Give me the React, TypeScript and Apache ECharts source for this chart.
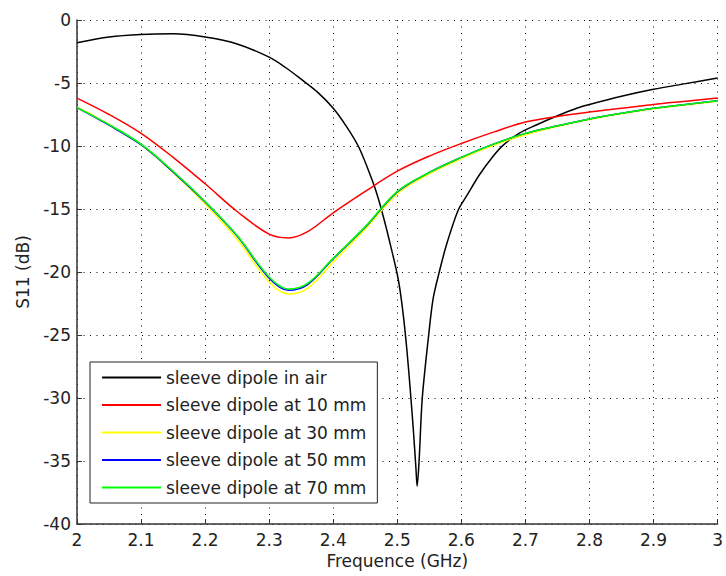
import React, { useEffect, useRef } from "react";
import * as echarts from "echarts";

// Frequencies (GHz) for the sleeve dipole in air
const freqAir = [2.0, 2.05, 2.1, 2.15, 2.2, 2.25, 2.3, 2.325, 2.35, 2.375, 2.4, 2.42, 2.44, 2.46, 2.47, 2.48, 2.49, 2.5, 2.505, 2.51, 2.515, 2.52, 2.525, 2.529, 2.531, 2.534, 2.539, 2.549, 2.556, 2.566, 2.577, 2.595, 2.609, 2.628, 2.649, 2.665, 2.69, 2.717, 2.75, 2.78, 2.8, 2.85, 2.9, 2.95, 3.0];
const s11Air = [-1.8, -1.35, -1.15, -1.1, -1.35, -1.9, -2.95, -3.75, -4.7, -5.7, -7.0, -8.4, -10.1, -12.6, -14.1, -15.95, -18.0, -20.2, -21.7, -23.7, -26.2, -29.2, -32.5, -35.5, -37.0, -35.0, -30.0, -25.0, -22.1, -19.9, -17.8, -15.1, -13.9, -12.3, -10.85, -9.95, -9.0, -8.33, -7.6, -7.0, -6.7, -6.05, -5.5, -5.05, -4.6];

// Common frequency grid (GHz) for the dipole in liquid
const freqs = [2.0, 2.05, 2.1, 2.15, 2.2, 2.25, 2.3, 2.33, 2.36, 2.4, 2.45, 2.5, 2.55, 2.6, 2.65, 2.7, 2.75, 2.8, 2.85, 2.9, 2.95, 3.0];
const s11At10 = [-6.2, -7.5, -9.0, -10.9, -13.0, -15.2, -17.0, -17.3, -16.8, -15.3, -13.6, -12.0, -10.8, -9.8, -8.9, -8.1, -7.65, -7.3, -7.0, -6.7, -6.45, -6.2];
const s11At30 = [-6.9, -8.3, -9.9, -12.1, -14.6, -17.4, -20.8, -21.75, -21.3, -19.2, -16.6, -13.8, -12.2, -11.0, -9.95, -9.1, -8.45, -7.9, -7.45, -7.05, -6.75, -6.45];
const s11At50 = [-6.95, -8.35, -9.9, -12.05, -14.45, -17.15, -20.5, -21.45, -21.0, -18.95, -16.45, -13.65, -12.1, -10.9, -9.85, -9.0, -8.4, -7.85, -7.4, -7.0, -6.7, -6.4];
const s11At70 = [-6.95, -8.3, -9.85, -12.0, -14.4, -17.1, -20.4, -21.35, -20.9, -18.9, -16.4, -13.6, -12.1, -10.9, -9.85, -9.0, -8.4, -7.85, -7.4, -7.0, -6.7, -6.4];

const seriesNames = [
  "sleeve dipole in air",
  "sleeve dipole at 10 mm",
  "sleeve dipole at 30 mm",
  "sleeve dipole at 50 mm",
  "sleeve dipole at 70 mm",
];
const seriesColors = ["#000000", "#ff0000", "#ffff00", "#0000ff", "#00ff00"];
const seriesSmooth = [0.3, 0.35, 0.35, 0.35, 0.35];

const xAxisName = "Frequence (GHz)";
const yAxisName = "S11 (dB)";

const FONT = "DejaVu Sans, Arial, sans-serif";

function zip(xs: number[], ys: number[]) {
  return xs.map((x, i) => [x, ys[i]]);
}

export default function App() {
  const ref = useRef<HTMLDivElement>(null);
  useEffect(() => {
    if (!ref.current) return;
    const chart = echarts.init(ref.current, undefined, { renderer: "svg" });
    const datasets = [
      zip(freqAir, s11Air),
      zip(freqs, s11At10),
      zip(freqs, s11At30),
      zip(freqs, s11At50),
      zip(freqs, s11At70),
    ];
    const gridLine = { show: true, lineStyle: { color: "#000", width: 1, type: [1, 5.5] as any } };
    chart.setOption({
      animation: false,
      backgroundColor: "#ffffff",
      grid: { left: 77, right: 6, top: 20, bottom: 52, containLabel: false },
      xAxis: {
        type: "value",
        min: 2,
        max: 3,
        interval: 0.1,
        name: xAxisName,
        nameLocation: "middle",
        nameGap: 27,
        nameTextStyle: { fontFamily: FONT, fontSize: 17, color: "#222" },
        axisLine: { show: true, onZero: false, lineStyle: { color: "#333", width: 1.5 } },
        axisTick: { show: true, inside: true, length: 5, lineStyle: { color: "#333" } },
        axisLabel: {
          fontFamily: FONT,
          fontSize: 17,
          color: "#222",
          margin: 7,
          formatter: (v: number) => String(Math.round(v * 10) / 10),
        },
        splitLine: gridLine,
      },
      yAxis: {
        type: "value",
        min: -40,
        max: 0,
        interval: 5,
        name: yAxisName,
        nameLocation: "middle",
        nameGap: 46,
        nameTextStyle: { fontFamily: FONT, fontSize: 17, color: "#222" },
        axisLine: { show: true, onZero: false, lineStyle: { color: "#333", width: 1.5 } },
        axisTick: { show: true, inside: true, length: 5, lineStyle: { color: "#333" } },
        axisLabel: { fontFamily: FONT, fontSize: 17, color: "#222", margin: 6 },
        splitLine: gridLine,
      },
      legend: {
        orient: "vertical",
        left: 90,
        top: 362,
        padding: [7, 11, 7, 12],
        itemGap: 10.5,
        itemWidth: 59,
        itemHeight: 2,
        icon: "rect",
        backgroundColor: "#ffffff",
        borderColor: "#222",
        borderWidth: 1,
        borderRadius: 0,
        textStyle: { fontFamily: FONT, fontSize: 17, color: "#222", lineHeight: 17 },
        data: seriesNames,
      },
      series: seriesNames.map((name, i) => ({
        name,
        type: "line",
        data: datasets[i],
        showSymbol: false,
        symbol: "none",
        smooth: seriesSmooth[i],
        color: seriesColors[i],
        lineStyle: { color: seriesColors[i], width: 1.5 },
        z: 2 + i,
      })),
    });
    return () => chart.dispose();
  }, []);
  return <div ref={ref} style={{ width: 726, height: 576, position: "absolute", left: 0, top: 0 }} />;
}
